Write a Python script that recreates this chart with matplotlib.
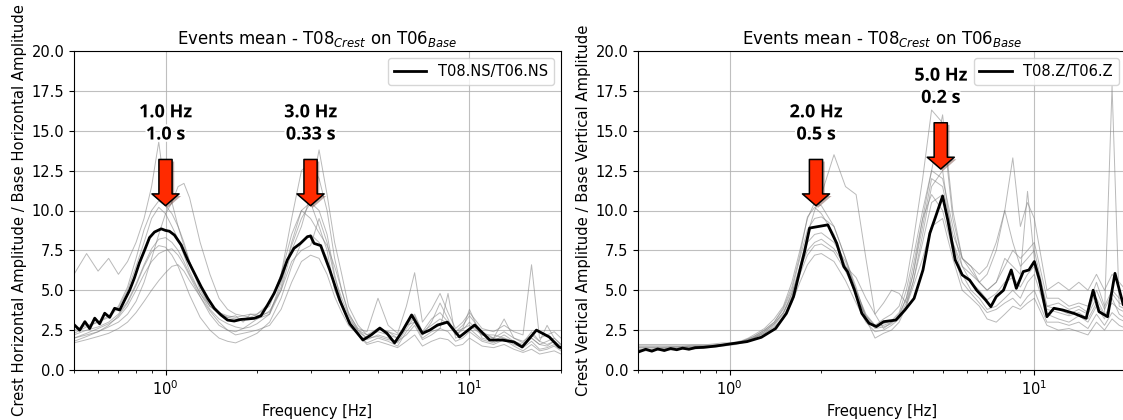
import matplotlib
matplotlib.use("Agg")
import matplotlib.pyplot as plt
import matplotlib.patheffects as pe
from matplotlib.ticker import FormatStrFormatter, LogLocator

# ---------------- data ----------------
TITLE = r'Events mean - T08$_{Crest}$ on T06$_{Base}$'
XLABEL = 'Frequency [Hz]'
YLABEL_NS = 'Crest Horizontal Amplitude / Base Horizontal Amplitude'
YLABEL_Z = 'Crest Vertical Amplitude / Base Vertical Amplitude'
LEGEND_NS = 'T08.NS/T06.NS'
LEGEND_Z = 'T08.Z/T06.Z'
YTICKS = [0.0, 2.5, 5.0, 7.5, 10.0, 12.5, 15.0, 17.5, 20.0]

# mean curves
FREQ_NS_MEAN = [0.503, 0.522, 0.543, 0.563, 0.585, 0.607, 0.631, 0.655, 0.68, 0.707,
                0.734, 0.762, 0.79, 0.82, 0.853, 0.886, 0.92, 0.968, 1.0, 1.03,
                1.07, 1.126, 1.183, 1.245, 1.31, 1.377, 1.447, 1.522, 1.6, 1.683,
                1.77, 1.86, 1.958, 2.06, 2.165, 2.276, 2.394, 2.516, 2.646, 2.78,
                2.93, 3.0, 3.08, 3.24, 3.47, 3.74, 4.04, 4.46, 4.75, 5.07,
                5.35, 5.67, 6.0, 6.45, 7.0, 7.4, 7.85, 8.46, 9.27, 10.4,
                11.65, 12.8, 14.0, 14.9, 16.6, 18.3, 19.7, 20.0]
AMP_NS_MEAN = [2.8, 2.5, 3.03, 2.6, 3.25, 2.9, 3.56, 3.3, 3.87, 3.76,
               4.39, 5.0, 5.77, 6.7, 7.5, 8.3, 8.65, 8.85, 8.75, 8.7,
               8.46, 7.84, 6.9, 6.06, 5.22, 4.49, 3.87, 3.45, 3.13, 3.07,
               3.17, 3.2, 3.24, 3.4, 4.07, 4.8, 5.75, 6.9, 7.63, 7.94,
               8.36, 8.4, 7.94, 7.8, 6.27, 4.39, 2.9, 1.88, 2.2, 2.63,
               2.3, 1.7, 2.4, 3.45, 2.3, 2.5, 2.82, 3.0, 2.07, 2.82,
               1.88, 1.88, 1.76, 1.44, 2.5, 2.07, 1.44, 1.4]

FREQ_Z_MEAN = [0.505, 0.53, 0.555, 0.58, 0.61, 0.64, 0.67, 0.70, 0.735, 0.77,
               0.82, 0.9, 1.0, 1.14, 1.27, 1.415, 1.535, 1.62, 1.712, 1.76,
               1.83, 1.96, 2.1, 2.246, 2.37, 2.436, 2.57, 2.715, 2.867, 3.03,
               3.2, 3.51, 3.76, 4.03, 4.31, 4.54, 4.74, 5.0, 5.2, 5.5,
               5.8, 6.13, 6.47, 6.92, 7.2, 7.5, 7.92, 8.4, 8.73, 9.2,
               9.6, 10.0, 10.4, 11.0, 11.6, 12.4, 13.5, 14.8, 15.6, 16.3,
               17.4, 18.4, 19.6, 20.0]
AMP_Z_MEAN = [1.15, 1.3, 1.18, 1.32, 1.22, 1.35, 1.27, 1.37, 1.3, 1.4,
              1.42, 1.5, 1.63, 1.78, 2.05, 2.6, 3.55, 4.6, 6.48, 7.4,
              8.9, 9.0, 9.1, 7.94, 6.48, 6.17, 5.0, 3.55, 2.93, 2.72,
              3.03, 3.13, 3.76, 4.49, 6.27, 8.57, 9.6, 10.9, 9.4, 6.9,
              5.96, 5.64, 5.0, 4.39, 3.97, 4.6, 5.0, 6.27, 5.12, 6.17,
              6.27, 6.8, 5.64, 3.34, 3.87, 3.76, 3.55, 3.24, 5.0, 3.66,
              3.34, 6.06, 4.08, 4.2]

# individual events (common frequency grid)
FREQ_EVENTS = [0.5, 0.55, 0.6, 0.65, 0.7, 0.75, 0.8, 0.85, 0.9, 0.95,
               1.0, 1.05, 1.1, 1.15, 1.2, 1.3, 1.4, 1.5, 1.6, 1.7,
               1.8, 1.9, 2.0, 2.2, 2.4, 2.6, 2.8, 3.0, 3.2, 3.4,
               3.6, 3.8, 4.0, 4.3, 4.6, 5.0, 5.4, 5.8, 6.2, 6.6,
               7.0, 7.5, 8.0, 8.5, 9.0, 9.5, 10, 11, 12, 13,
               14, 15, 16, 17, 18, 19, 20]

NS_EV1 = [6.0, 7.3, 6.2, 7.0, 6.0, 6.8, 8.0, 9.5, 11.5, 14.3,
          11.0, 10.5, 9.0, 8.0, 6.8, 5.2, 4.0, 3.6, 3.3, 3.4,
          3.0, 3.5, 3.4, 3.6, 5.2, 8.0, 10.0, 10.5, 9.0, 7.5,
          5.0, 4.0, 3.2, 2.5, 2.2, 2.4, 2.2, 2.0, 3.0, 3.5,
          2.4, 2.8, 3.2, 2.9, 2.2, 2.5, 3.0, 2.2, 2.2, 2.0,
          1.8, 1.6, 2.0, 1.6, 1.8, 2.0, 1.6]
NS_EV2 = [2.0, 2.2, 2.4, 2.7, 3.0, 3.5, 4.3, 5.5, 7.0, 8.5,
          9.8, 10.5, 11.5, 11.7, 10.8, 8.0, 6.0, 4.5, 3.8, 3.5,
          3.4, 3.3, 3.2, 3.5, 5.0, 7.5, 9.0, 11.0, 13.8, 11.0,
          8.0, 6.0, 4.0, 2.8, 2.2, 2.6, 2.4, 2.2, 2.8, 3.0,
          2.2, 2.6, 2.8, 3.0, 2.4, 2.8, 3.4, 2.4, 2.0, 2.4,
          2.0, 1.8, 2.2, 1.8, 1.6, 1.8, 1.5]
NS_EV3 = [1.7, 1.9, 2.1, 2.3, 2.6, 3.0, 3.6, 4.3, 5.0, 5.6,
          6.1, 6.5, 6.6, 6.2, 5.6, 4.6, 3.7, 3.0, 2.5, 2.2,
          2.3, 2.4, 2.5, 2.8, 3.8, 5.5, 6.8, 7.2, 7.0, 6.0,
          4.6, 3.6, 2.8, 2.2, 1.6, 1.8, 1.6, 1.4, 1.8, 2.2,
          1.5, 1.8, 2.0, 1.9, 1.5, 1.6, 2.0, 1.5, 1.4, 1.6,
          1.3, 1.1, 1.3, 1.0, 1.1, 1.2, 1.0]
NS_EV4 = [1.8, 2.1, 2.4, 2.8, 3.4, 4.2, 5.3, 6.5, 7.4, 7.8,
          7.7, 7.2, 6.5, 5.6, 4.7, 3.3, 2.5, 2.0, 1.8, 1.7,
          1.9, 2.1, 2.3, 3.0, 4.5, 6.5, 8.0, 8.5, 8.0, 7.0,
          5.2, 4.0, 3.0, 2.2, 1.7, 2.0, 1.8, 1.5, 2.4, 3.0,
          2.0, 2.4, 2.6, 2.4, 1.8, 2.0, 2.4, 1.8, 1.6, 1.9,
          1.5, 1.2, 1.6, 1.2, 1.3, 1.5, 1.2]
NS_EV5 = [2.5, 2.8, 3.0, 3.3, 3.9, 5.0, 6.5, 8.0, 9.5, 10.2,
          9.8, 9.0, 8.2, 7.2, 6.2, 4.8, 4.0, 3.6, 3.4, 3.3,
          3.4, 3.5, 3.5, 4.0, 6.0, 9.5, 12.5, 13.0, 12.0, 10.0,
          7.0, 5.0, 3.5, 2.6, 2.4, 4.5, 2.8, 2.3, 4.0, 6.1,
          3.0, 3.8, 4.8, 3.6, 2.6, 3.0, 3.6, 2.6, 2.4, 2.8,
          2.4, 2.2, 6.6, 2.0, 2.2, 2.4, 2.0]
NS_EV6 = [2.2, 2.5, 2.7, 3.0, 3.5, 4.3, 5.4, 6.6, 7.6, 8.2,
          8.3, 8.0, 7.5, 6.8, 6.0, 4.8, 3.8, 3.2, 2.9, 2.7,
          2.6, 2.7, 2.9, 3.5, 5.5, 7.8, 9.5, 10.5, 10.0, 8.5,
          6.0, 4.2, 3.0, 2.2, 1.9, 2.2, 2.0, 1.7, 2.6, 3.3,
          2.2, 3.0, 4.2, 3.2, 2.2, 2.6, 3.8, 2.0, 1.8, 2.2,
          1.8, 1.5, 2.0, 1.6, 1.5, 1.8, 1.4]
NS_EV7 = [2.0, 2.3, 2.6, 2.9, 3.3, 4.0, 5.0, 6.0, 6.8, 7.3,
          7.5, 7.6, 7.2, 6.6, 5.9, 4.6, 3.5, 2.8, 2.5, 2.4,
          2.6, 2.9, 3.2, 3.7, 5.0, 6.8, 7.5, 7.8, 9.5, 8.0,
          5.8, 4.5, 3.4, 2.4, 2.0, 2.1, 1.9, 1.8, 2.2, 2.8,
          1.9, 2.2, 2.6, 4.8, 2.0, 2.2, 2.6, 1.9, 1.7, 2.0,
          1.6, 1.4, 1.8, 1.3, 1.4, 1.6, 1.3]
NS_EV8 = [2.3, 2.7, 3.0, 3.4, 4.0, 5.2, 7.0, 8.8, 10.0, 10.6,
          10.3, 9.8, 9.0, 7.8, 6.8, 5.0, 4.0, 3.5, 3.3, 3.2,
          3.2, 3.3, 3.5, 4.2, 6.0, 8.5, 10.0, 9.5, 8.6, 7.8,
          6.5, 5.0, 3.6, 2.5, 2.0, 2.6, 2.4, 2.0, 2.8, 3.4,
          2.4, 3.2, 3.6, 3.0, 2.4, 2.6, 2.8, 2.2, 2.0, 3.2,
          2.0, 1.7, 2.4, 1.8, 2.8, 2.0, 1.6]

Z_EV1 = [1.5, 1.5, 1.5, 1.5, 1.5, 1.5, 1.5, 1.5, 1.55, 1.6,
         1.65, 1.7, 1.8, 1.9, 2.0, 2.3, 2.7, 3.3, 4.5, 6.5,
         8.5, 10.0, 11.0, 13.5, 11.5, 11.0, 7.0, 3.5, 2.6, 3.0,
         3.5, 4.5, 6.0, 9.0, 12.0, 11.5, 8.5, 7.0, 6.5, 5.5,
         5.0, 5.5, 6.5, 7.5, 7.0, 7.5, 8.0, 4.5, 4.5, 4.0,
         4.2, 4.0, 5.5, 4.0, 5.0, 4.5, 4.5]
Z_EV2 = [1.4, 1.4, 1.4, 1.45, 1.45, 1.5, 1.5, 1.5, 1.55, 1.6,
         1.65, 1.7, 1.8, 1.95, 2.1, 2.5, 3.0, 3.8, 5.0, 7.0,
         8.8, 9.5, 9.6, 9.0, 7.0, 5.0, 3.5, 2.8, 3.2, 3.5,
         4.0, 5.5, 8.0, 12.0, 16.3, 15.5, 9.5, 7.0, 6.5, 6.0,
         6.5, 8.0, 10.0, 13.3, 9.0, 10.5, 9.5, 5.0, 5.5, 5.0,
         5.5, 5.0, 6.0, 5.0, 6.0, 5.5, 5.0]
Z_EV3 = [1.2, 1.2, 1.25, 1.25, 1.3, 1.3, 1.35, 1.4, 1.45, 1.5,
         1.55, 1.6, 1.7, 1.8, 1.9, 2.2, 2.6, 3.2, 4.2, 5.5,
         6.6, 7.2, 7.3, 6.8, 5.6, 4.2, 3.0, 2.4, 2.5, 2.8,
         3.2, 4.0, 5.2, 7.0, 9.0, 9.5, 7.0, 5.0, 4.5, 4.0,
         3.2, 3.0, 3.5, 4.0, 3.8, 4.2, 4.5, 2.8, 2.5, 2.6,
         2.4, 2.2, 3.0, 2.5, 3.2, 2.8, 2.6]
Z_EV4 = [1.6, 1.6, 1.6, 1.6, 1.6, 1.6, 1.6, 1.6, 1.65, 1.7,
         1.7, 1.75, 1.85, 2.0, 2.2, 2.6, 3.2, 4.0, 5.5, 7.5,
         9.5, 10.5, 10.3, 9.0, 7.0, 5.2, 3.2, 2.0, 2.3, 2.5,
         3.0, 4.0, 5.5, 8.5, 11.5, 12.5, 8.0, 6.0, 5.0, 4.5,
         3.8, 4.0, 4.5, 5.0, 4.5, 5.5, 6.0, 3.5, 3.2, 3.0,
         3.4, 3.0, 4.0, 3.2, 4.5, 3.5, 3.2]
Z_EV5 = [1.3, 1.3, 1.3, 1.35, 1.35, 1.4, 1.4, 1.45, 1.5, 1.55,
         1.6, 1.65, 1.75, 1.85, 2.0, 2.3, 2.8, 3.5, 4.8, 6.3,
         7.5, 8.0, 8.2, 7.6, 6.5, 5.8, 4.5, 3.5, 4.2, 5.0,
         4.8, 4.2, 5.5, 8.0, 10.5, 11.0, 8.0, 6.5, 6.0, 5.5,
         6.0, 7.5, 10.0, 8.0, 6.5, 7.0, 7.5, 4.0, 3.8, 3.5,
         3.8, 3.5, 4.5, 3.5, 17.8, 4.0, 3.8]
Z_EV6 = [1.4, 1.4, 1.4, 1.4, 1.45, 1.45, 1.5, 1.5, 1.5, 1.55,
         1.6, 1.65, 1.75, 1.85, 2.0, 2.4, 2.9, 3.6, 4.8, 6.5,
         8.0, 8.5, 8.6, 8.0, 6.8, 5.0, 3.4, 2.7, 2.8, 3.0,
         3.3, 4.2, 6.0, 9.5, 12.5, 16.0, 10.0, 7.0, 6.2, 5.5,
         5.0, 5.5, 7.0, 6.5, 6.0, 11.2, 7.0, 4.0, 4.2, 3.8,
         4.0, 3.6, 5.0, 3.8, 4.8, 4.2, 4.0]
Z_EV7 = [1.3, 1.3, 1.35, 1.35, 1.4, 1.4, 1.45, 1.5, 1.5, 1.55,
         1.6, 1.7, 1.8, 1.9, 2.05, 2.4, 2.9, 3.6, 4.6, 6.0,
         7.2, 7.8, 7.9, 7.4, 6.2, 4.8, 3.3, 2.6, 2.7, 2.9,
         3.4, 4.5, 6.5, 9.5, 11.0, 10.0, 7.5, 5.5, 4.8, 4.2,
         3.6, 3.8, 4.2, 4.5, 4.0, 4.6, 5.0, 3.0, 3.0, 2.8,
         3.0, 2.6, 3.5, 2.8, 3.6, 3.2, 3.0]
Z_EV8 = [1.5, 1.5, 1.5, 1.5, 1.5, 1.55, 1.55, 1.55, 1.6, 1.6,
         1.65, 1.7, 1.8, 1.95, 2.1, 2.5, 3.0, 3.9, 5.2, 7.2,
         9.6, 10.2, 9.8, 8.5, 6.5, 4.6, 3.4, 2.8, 2.9, 3.1,
         3.6, 5.0, 7.0, 10.0, 12.5, 12.0, 9.0, 6.5, 5.5, 5.0,
         4.4, 4.8, 5.5, 5.8, 5.2, 6.0, 6.5, 3.8, 3.6, 3.4,
         3.6, 3.2, 4.2, 3.4, 4.2, 3.8, 3.6]

NS_EVENTS = [NS_EV1, NS_EV2, NS_EV3, NS_EV4, NS_EV5, NS_EV6, NS_EV7, NS_EV8]
Z_EVENTS = [Z_EV1, Z_EV2, Z_EV3, Z_EV4, Z_EV5, Z_EV6, Z_EV7, Z_EV8]

# annotations: (frequency, text, text_y, arrow_top, arrow_tip)
NS_PEAKS = [(1.0, '1.0 Hz\n1.0 s', 14.2, 13.2, 10.3),
            (3.0, '3.0 Hz\n0.33 s', 14.2, 13.2, 10.3)]
Z_PEAKS = [(1.92, '2.0 Hz\n0.5 s', 14.2, 13.2, 10.3),
           (4.93, '5.0 Hz\n0.2 s', 16.5, 15.5, 12.6)]

# ---------------- figure ----------------
W, H = 1123, 420
fig = plt.figure(figsize=(W / 100, H / 100), dpi=100)
ax1 = fig.add_axes([74 / W, 50 / H, 487 / W, 319 / H])
ax2 = fig.add_axes([638 / W, 50 / H, 488 / W, 319 / H])

ARROW_RED = '#ff2a00'


def draw_panel(ax, fmean, amean, events, ylabel, leg, peaks):
    for ev in events:
        ax.plot(FREQ_EVENTS, ev, color='#808080', lw=0.7, alpha=0.55, zorder=2)
    ax.plot(fmean, amean, color='black', lw=2.0, label=leg, zorder=3)
    ax.set_xscale('log')
    ax.set_xlim(0.5, 20)
    ax.set_ylim(0, 20)
    ax.set_yticks(YTICKS)
    ax.yaxis.set_major_formatter(FormatStrFormatter('%.1f'))
    ax.xaxis.set_major_locator(LogLocator(base=10))
    ax.grid(True, which='major', color='#b0b0b0', lw=0.8, alpha=0.8)
    ax.set_axisbelow(True)
    ax.tick_params(labelsize=10.5)
    ax.set_title(TITLE, fontsize=12, pad=5)
    ax.set_xlabel(XLABEL, fontsize=10.5)
    ax.set_ylabel(ylabel, fontsize=10.6, labelpad=3)
    ax.legend(loc='upper right', fontsize=10.5, handlelength=2.2)
    for f, txt, ty, atop, atip in peaks:
        ax.annotate('', xy=(f, atip), xytext=(f, atop),
                    arrowprops=dict(arrowstyle='simple,head_length=0.85,head_width=1.95,tail_width=0.95',
                                    fc=ARROW_RED, ec='black', lw=1.1, mutation_scale=10,
                                    shrinkA=0, shrinkB=0,
                                    path_effects=[pe.SimplePatchShadow(offset=(1.5, -1.5), alpha=0.35),
                                                  pe.Normal()]),
                    zorder=5)
        ax.text(f, ty, txt, ha='center', va='bottom', fontsize=13, fontweight='bold',
                family=['Open Sans', 'DejaVu Sans'], linespacing=1.3, zorder=6,
                path_effects=[pe.withStroke(linewidth=3, foreground='white')])


draw_panel(ax1, FREQ_NS_MEAN, AMP_NS_MEAN, NS_EVENTS, YLABEL_NS, LEGEND_NS, NS_PEAKS)
draw_panel(ax2, FREQ_Z_MEAN, AMP_Z_MEAN, Z_EVENTS, YLABEL_Z, LEGEND_Z, Z_PEAKS)

fig.savefig('out.png', dpi=100)
